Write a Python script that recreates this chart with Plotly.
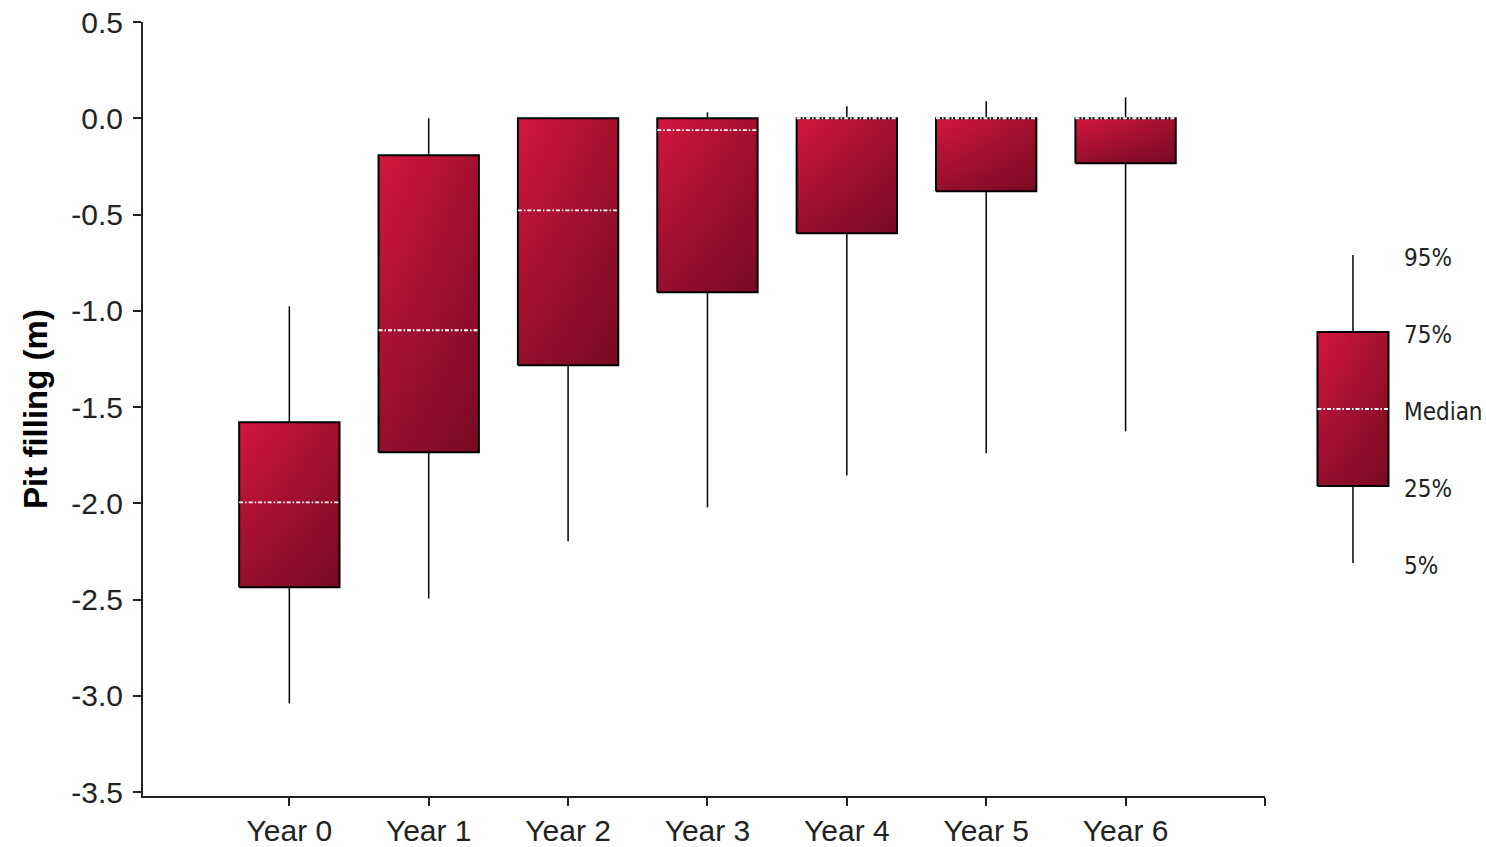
import plotly.graph_objects as go

# ---- data ----
years = ["Year 0", "Year 1", "Year 2", "Year 3", "Year 4", "Year 5", "Year 6"]
p95 = [-0.977, 0.0, 0.0, 0.031, 0.062, 0.088, 0.109]
p75 = [-1.579, -0.192, 0.0, 0.0, 0.0, 0.0, 0.0]
median = [-1.995, -1.101, -0.478, -0.062, 0.0, 0.0, 0.0]
p25 = [-2.436, -1.735, -1.283, -0.904, -0.597, -0.379, -0.234]
p05 = [-3.039, -2.494, -2.197, -2.021, -1.855, -1.740, -1.626]

y_ticks = [0.5, 0.0, -0.5, -1.0, -1.5, -2.0, -2.5, -3.0, -3.5]

# legend key (schematic box on its own hidden axis)
key_labels = ["95%", "75%", "Median", "25%", "5%"]
key_levels = [4, 3, 2, 1, 0]

# ---- style ----
HALF = 0.36
KEY_HALF = 0.5
BRIGHT = "rgb(212,22,62)"
MID = "rgb(150,14,44)"
SHADE0 = "rgba(40,0,10,0)"
SHADE1 = "rgba(40,0,10,0.28)"
FONT = "Liberation Sans, Arial, sans-serif"
KEYFONT = "DejaVu Sans Condensed, DejaVu Sans, sans-serif"

fig = go.Figure()


def add_box(x, lo, q1, med, q3, hi, half, xa="x", ya="y"):
    # whiskers
    fig.add_trace(go.Scatter(
        x=[x, x, None, x, x], y=[q3, hi, None, q1, lo], mode="lines",
        line=dict(color="black", width=1.5), xaxis=xa, yaxis=ya,
        showlegend=False, hoverinfo="skip"))
    bx = [x - half, x + half, x + half, x - half, x - half]
    by = [q1, q1, q3, q3, q1]
    # vertical gradient
    fig.add_trace(go.Scatter(
        x=bx, y=by, mode="lines", fill="toself", line=dict(width=0),
        fillgradient=dict(type="vertical", colorscale=[[0, MID], [1, BRIGHT]]),
        xaxis=xa, yaxis=ya, showlegend=False, hoverinfo="skip"))
    # horizontal shading + outline
    fig.add_trace(go.Scatter(
        x=bx, y=by, mode="lines", fill="toself",
        line=dict(color="black", width=2),
        fillgradient=dict(type="horizontal", colorscale=[[0, SHADE0], [1, SHADE1]]),
        xaxis=xa, yaxis=ya, showlegend=False, hoverinfo="skip"))
    # median
    fig.add_trace(go.Scatter(
        x=[x - half, x + half], y=[med, med], mode="lines",
        line=dict(color="white", width=1.8, dash="4px,2px,1.5px,2px"),
        xaxis=xa, yaxis=ya, showlegend=False, hoverinfo="skip"))


for i in range(len(years)):
    add_box(i, p05[i], p25[i], median[i], p75[i], p95[i], HALF)

# legend key
add_box(0, key_levels[4], key_levels[3], key_levels[2], key_levels[1], key_levels[0],
        KEY_HALF, xa="x2", ya="y2")
for lab, lv in zip(key_labels, key_levels):
    fig.add_annotation(x=0.69, y=lv, xref="x2", yref="y2", text=lab,
                       showarrow=False, xanchor="left", yanchor="middle",
                       yshift=-3,
                       font=dict(family=KEYFONT, size=24, color="#222"))

fig.update_layout(
    width=1486, height=847,
    margin=dict(l=143, r=0, t=22, b=51),
    plot_bgcolor="white", paper_bgcolor="white",
    showlegend=False,
    xaxis=dict(
        domain=[0, 0.8354], range=[-1.05, 7.0], automargin=False,
        tickvals=list(range(len(years))) + [len(years)],
        ticktext=years + [""],
        showline=True, linecolor="#222", linewidth=2,
        ticks="outside", ticklen=8, tickwidth=2, tickcolor="#222",
        showgrid=False, zeroline=False, ticklabelstandoff=-1,
        tickfont=dict(family=FONT, size=30, color="#222"),
    ),
    yaxis=dict(
        range=[-3.52, 0.5], tickvals=y_ticks, automargin=False,
        ticktext=[f"{v:.1f}" for v in y_ticks],
        showline=True, linecolor="#222", linewidth=2,
        ticks="outside", ticklen=8, tickwidth=2, tickcolor="#222",
        showgrid=False, zeroline=False, ticklabelstandoff=4,
        tickfont=dict(family=FONT, size=30, color="#222"),
        title=dict(text="<b>Pit filling (m)</b>", standoff=14,
                   font=dict(family=FONT, size=33, color="black")),
    ),
    xaxis2=dict(domain=[0.8615, 1.0], range=[-0.746, 1.873], visible=False,
                anchor="y2"),
    yaxis2=dict(domain=[0, 1], range=[-3.026, 7.026], visible=False,
                anchor="x2"),
)

fig.write_html("out.html")
